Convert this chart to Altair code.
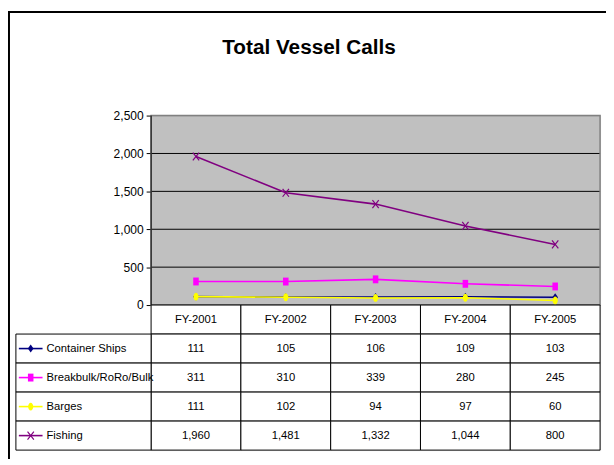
import altair as alt
import pandas as pd

years = ["FY-2001", "FY-2002", "FY-2003", "FY-2004", "FY-2005"]
series_names = ["Container Ships", "Breakbulk/RoRo/Bulk", "Barges", "Fishing"]
container_ships = [111, 105, 106, 109, 103]
breakbulk = [311, 310, 339, 280, 245]
barges = [111, 102, 94, 97, 60]
fishing = [1960, 1481, 1332, 1044, 800]
series_colors = ["#000080", "#FF00FF", "#FFFF00", "#800080"]
y_ticks = [0, 500, 1000, 1500, 2000, 2500]
title_text = "Total Vessel Calls"

all_values = [container_ships, breakbulk, barges, fishing]
records = []
for name, vals in zip(series_names, all_values):
    for yr, v in zip(years, vals):
        records.append({"series": name, "year": yr, "value": v, "row": name})
df = pd.DataFrame(records)

HDR = "header"
row_domain = [HDR] + series_names
hdr_df = pd.DataFrame({"year": years, "row": [HDR] * len(years)})
cells_df = pd.DataFrame([{"year": y, "row": r} for r in row_domain for y in years])
legend_df = pd.DataFrame({"series": series_names, "row": series_names})
ticks_df = pd.DataFrame({"tick": y_ticks})
one = pd.DataFrame({"a": [0]})
title_df = pd.DataFrame({"title": [title_text]})

PW, PH, TH = 455, 192, 147
FONT = "Liberation Sans, Arial, sans-serif"
TFS = 11.4

shape_paths = [
    "M0,-1L0.72,0L0,1L-0.72,0Z",
    "M-0.7,-1H0.7V1H-0.7Z",
    "M0,-1A0.65,1,0,1,1,0,1A0.65,1,0,1,1,0,-1Z",
    "M-0.8,-1L0.8,1M-0.8,1L0.8,-1",
]

color_scale = alt.Scale(domain=series_names, range=series_colors)
shape_scale = alt.Scale(domain=series_names, range=shape_paths)
x_scale = alt.Scale(type="band", domain=years, paddingInner=0, paddingOuter=0)
y_val_scale = alt.Scale(domain=[0, 2500], range=[PH, 0], nice=False, zero=True)
y_row_scale = alt.Scale(type="band", domain=row_domain, range=[PH, PH + TH],
                        paddingInner=0, paddingOuter=0)

x_pt = alt.X("year:N", scale=x_scale, axis=None, bandPosition=0.5)
x_band = alt.X("year:N", scale=x_scale, axis=None)

y_axis = alt.Axis(values=y_ticks, format=",d", grid=False,
                  domainColor="black", tickColor="black", tickSize=5,
                  labelFont=FONT, labelFontSize=12.2, labelColor="black",
                  labelPadding=3, title=None)

base = alt.Chart(df)

plot_layers = [
    # plot area background
    alt.Chart(one).mark_rect(fill="#C0C0C0", stroke=None).encode(
        x=alt.value(0), x2=alt.value(PW),
        y=alt.Y(datum=2500, type="quantitative", scale=y_val_scale, axis=y_axis),
        y2=alt.Y2(datum=0),
    ),
    # gridlines
    alt.Chart(ticks_df).mark_rule(color="black", strokeWidth=1).encode(
        x=alt.value(0), x2=alt.value(PW), y=alt.Y("tick:Q"),
    ),
    # plot frame
    alt.Chart(one).mark_rect(fill=None, stroke="#808080", strokeWidth=1.5).encode(
        x=alt.value(0), x2=alt.value(PW),
        y=alt.Y(datum=2500, type="quantitative"), y2=alt.Y2(datum=0),
    ),
    alt.Chart(one).mark_rule(color="black", strokeWidth=1).encode(
        x=alt.value(0), y=alt.Y(datum=0, type="quantitative"), y2=alt.Y2(datum=2500),
    ),
]
for name in series_names:
    sub = base.transform_filter(alt.datum.series == name)
    plot_layers.append(
        sub.mark_line(strokeWidth=1.6).encode(
            x=x_pt, y=alt.Y("value:Q"),
            color=alt.Color("series:N", scale=color_scale, legend=None),
        )
    )
    plot_layers.append(
        sub.mark_point(filled=(name != "Fishing"), size=64, opacity=1, strokeWidth=1.2).encode(
            x=x_pt, y=alt.Y("value:Q"),
            color=alt.Color("series:N", scale=color_scale, legend=None),
            shape=alt.Shape("series:N", scale=shape_scale, legend=None),
        )
    )

plot = alt.layer(*plot_layers)

y_row = alt.Y("row:N", scale=y_row_scale, axis=None)
y_row_c = alt.Y("row:N", scale=y_row_scale, axis=None, bandPosition=0.5)

table_layers = [
    alt.Chart(cells_df).mark_rect(fill="white", stroke="black", strokeWidth=1).encode(
        x=x_band, y=y_row
    ),
    alt.Chart(legend_df).mark_rect(fill="white", stroke="black", strokeWidth=1).encode(
        x=alt.value(-137), x2=alt.value(0), y=y_row
    ),
    alt.Chart(hdr_df).mark_text(font=FONT, fontSize=TFS, color="black").encode(
        x=x_pt, y=y_row_c, text="year:N"
    ),
    base.mark_text(font=FONT, fontSize=TFS, color="black").encode(
        x=x_pt, y=y_row_c, text=alt.Text("value:Q", format=",d")
    ),
    alt.Chart(legend_df).mark_rule(strokeWidth=1.6).encode(
        x=alt.value(-134), x2=alt.value(-110), y=y_row_c,
        color=alt.Color("series:N", scale=color_scale, legend=None),
    ),
]
for name in series_names:
    table_layers.append(
        alt.Chart(legend_df).transform_filter(alt.datum.series == name).mark_point(
            filled=(name != "Fishing"), size=64, opacity=1, strokeWidth=1.2
        ).encode(
            x=alt.value(-122), y=y_row_c,
            color=alt.Color("series:N", scale=color_scale, legend=None),
            shape=alt.Shape("series:N", scale=shape_scale, legend=None),
        )
    )
table_layers.append(
    alt.Chart(legend_df).mark_text(font=FONT, fontSize=TFS, color="black", align="left").encode(
        x=alt.value(-106), y=y_row_c, text="series:N"
    )
)
# chart title
table_layers.append(
    alt.Chart(title_df).mark_text(font=FONT, fontSize=21, fontWeight="bold", color="black",
                                  align="center", baseline="middle").encode(
        x=alt.value(160), y=alt.value(-68), text="title:N"
    )
)
# outer chart frame
table_layers.append(
    alt.Chart(one).mark_rect(fill=None, stroke="black", strokeWidth=2).encode(
        x=alt.value(-144), y=alt.value(-105), x2=alt.value(PW + 40), y2=alt.value(PH + TH + 40)
    )
)

table = alt.layer(*table_layers)

chart = alt.layer(plot, table).resolve_scale(y="independent").properties(
    width=PW,
    height=PH + TH,
    padding={"left": 145, "top": 106, "right": 6, "bottom": 6},
    autosize=alt.AutoSizeParams(type="none"),
).configure_view(stroke=None).configure(background="white")

chart.save("out.html", embed_options={"renderer": "svg", "actions": False})
